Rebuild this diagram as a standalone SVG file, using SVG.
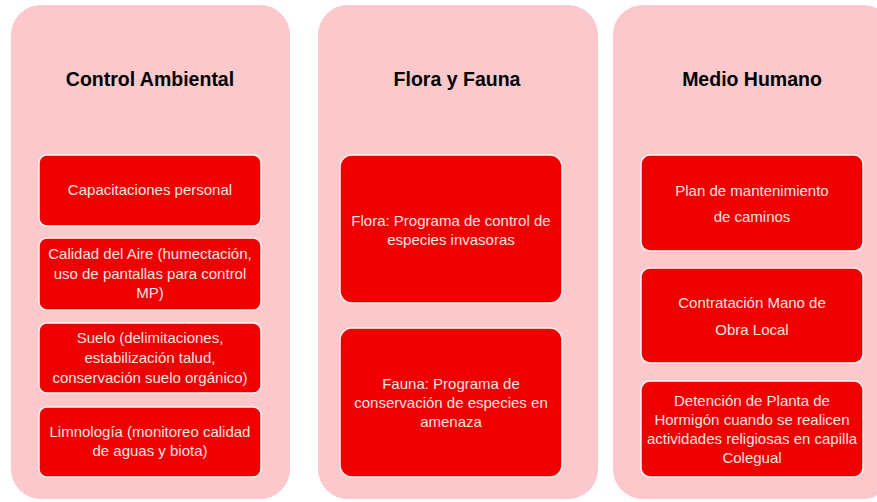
<svg xmlns="http://www.w3.org/2000/svg" width="877" height="502" viewBox="0 0 877 502">
<style>
.panel{fill:#FBC8CB;}
.box{fill:#EE0000;stroke:#FFF1F1;stroke-width:1.5;}
.title{font-family:"Liberation Sans",Arial,sans-serif;font-weight:bold;font-size:19.5px;fill:#000;text-anchor:middle;}
.txt{font-family:"Liberation Sans",Arial,sans-serif;font-size:15px;fill:#FFE2E2;text-anchor:middle;}
</style>
<rect width="877" height="502" fill="#FFFFFF"/>
<g id="panel-control-ambiental">
<rect class="panel" x="11" y="5" width="279" height="494" rx="30"/>
<text class="title" x="150" y="86">Control Ambiental</text>
</g>
<g id="panel-flora-fauna">
<rect class="panel" x="318" y="5" width="280" height="494" rx="30"/>
<text class="title" x="457" y="86">Flora y Fauna</text>
</g>
<g id="panel-medio-humano">
<rect class="panel" x="613" y="5" width="280" height="494" rx="30"/>
<text class="title" x="752" y="86">Medio Humano</text>
</g>
<g id="n-capacitaciones">
<rect class="box" x="39" y="155" width="222" height="71" rx="8"/>
<text class="txt" x="150" y="195">Capacitaciones personal</text>
</g>
<g id="n-calidad-aire">
<rect class="box" x="39" y="238" width="222" height="72" rx="8"/>
<text class="txt" x="150" y="259">Calidad del Aire (humectación,</text>
<text class="txt" x="150" y="279">uso de pantallas para control</text>
<text class="txt" x="150" y="298">MP)</text>
</g>
<g id="n-suelo">
<rect class="box" x="39" y="323" width="222" height="70" rx="8"/>
<text class="txt" x="150" y="343">Suelo (delimitaciones,</text>
<text class="txt" x="150" y="363">estabilización talud,</text>
<text class="txt" x="150" y="383">conservación suelo orgánico)</text>
</g>
<g id="n-limnologia">
<rect class="box" x="39" y="407" width="222" height="70" rx="8"/>
<text class="txt" x="150" y="437">Limnología (monitoreo calidad</text>
<text class="txt" x="150" y="456">de aguas y biota)</text>
</g>
<g id="n-flora">
<rect class="box" x="340" y="155" width="222" height="148" rx="12"/>
<text class="txt" x="451" y="226">Flora: Programa de control de</text>
<text class="txt" x="451" y="245">especies invasoras</text>
</g>
<g id="n-fauna">
<rect class="box" x="340" y="328" width="222" height="149" rx="12"/>
<text class="txt" x="451" y="389">Fauna: Programa de</text>
<text class="txt" x="451" y="408">conservación de especies en</text>
<text class="txt" x="451" y="427">amenaza</text>
</g>
<g id="n-caminos">
<rect class="box" x="641" y="155" width="222" height="96" rx="9"/>
<text class="txt" x="752" y="196">Plan de mantenimiento</text>
<text class="txt" x="752" y="222">de caminos</text>
</g>
<g id="n-mano-obra">
<rect class="box" x="641" y="268" width="222" height="95" rx="9"/>
<text class="txt" x="752" y="308">Contratación Mano de</text>
<text class="txt" x="752" y="335">Obra Local</text>
</g>
<g id="n-hormigon">
<rect class="box" x="641" y="381" width="222" height="96" rx="9"/>
<text class="txt" x="752" y="406">Detención de Planta de</text>
<text class="txt" x="752" y="425">Hormigón cuando se realicen</text>
<text class="txt" x="752" y="444">actividades religiosas en capilla</text>
<text class="txt" x="752" y="463">Colegual</text>
</g>
<g id="connectors"></g>
</svg>
